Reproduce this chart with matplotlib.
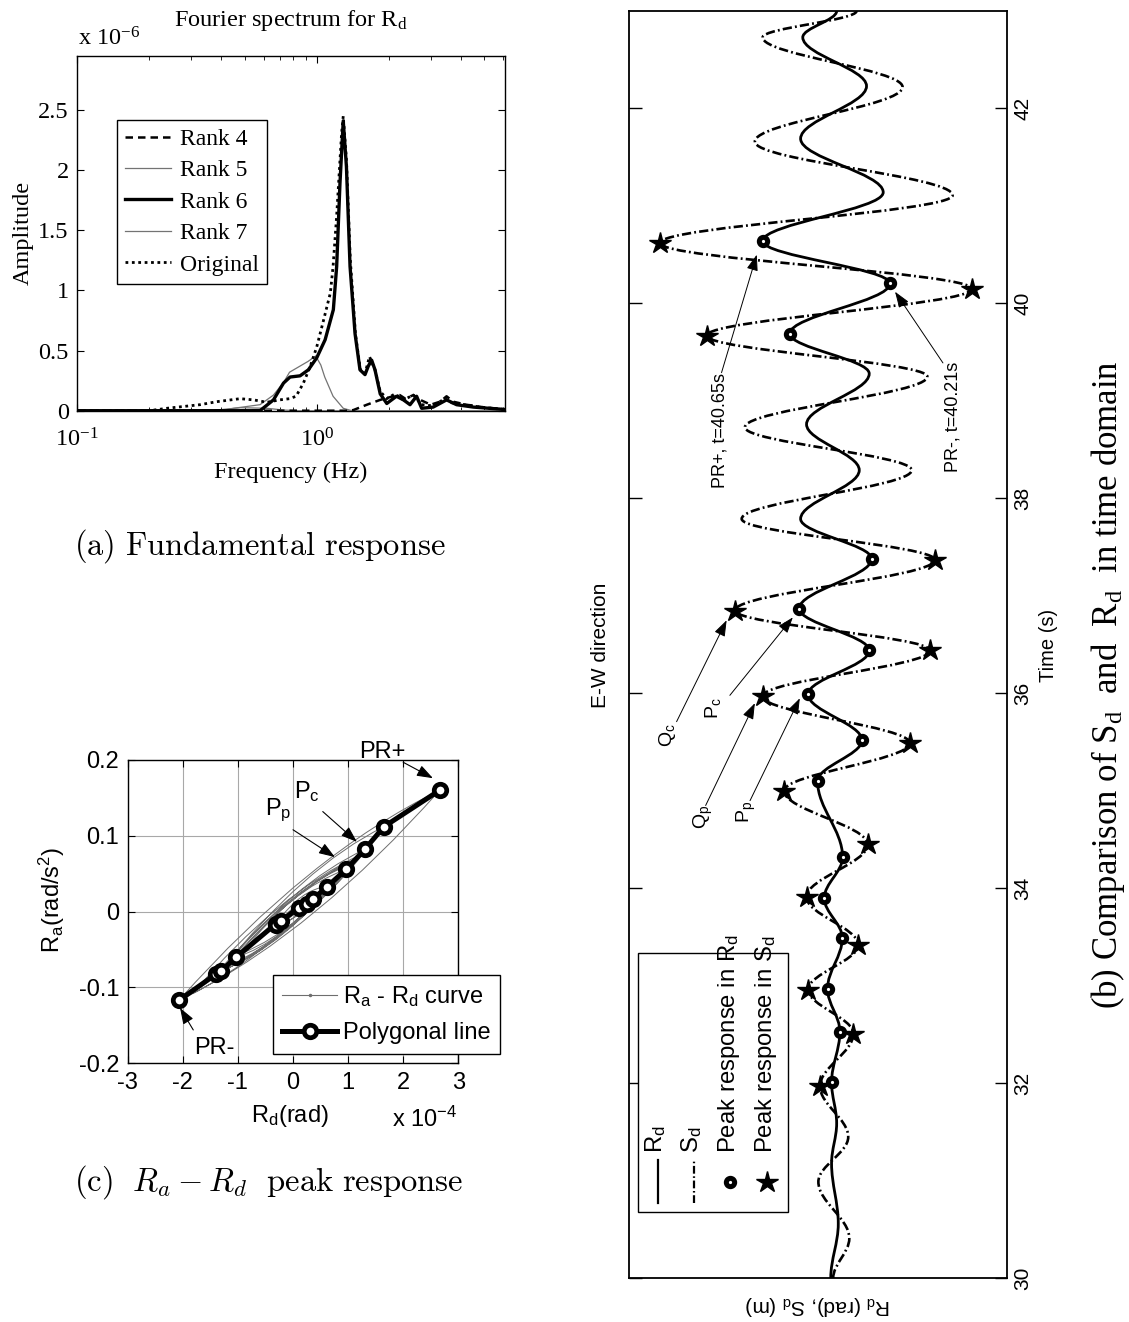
import numpy as np
import matplotlib
matplotlib.use("Agg")
import matplotlib.pyplot as plt
from matplotlib.path import Path
from matplotlib.patches import PathPatch, Rectangle
from matplotlib.lines import Line2D
from matplotlib.ticker import NullFormatter

plt.rcParams["axes.unicode_minus"] = False
plt.rcParams["font.family"] = ["Liberation Sans", "DejaVu Sans"]

W, H = 1129, 1322
SERIF = ["Liberation Serif", "DejaVu Serif"]
SANS = ["Liberation Sans", "DejaVu Sans"]


def fx(px):
    return px / W


def fy(py):
    return 1.0 - py / H


def axes_box(x0, y0, x1, y1):
    return [fx(x0), fy(y1), (x1 - x0) / W, (y1 - y0) / H]


# ---------------- (a) Fourier spectra of R_d (amplitude in 1e-6) ----------------
rank4_f = [0.1, 1.35, 1.42, 1.62, 1.84, 2.08, 2.22, 2.34, 2.53, 2.70, 2.99, 3.27, 3.48, 3.71, 4.2, 4.9, 6.1]
rank4_a = [0, 0, 0.005, 0.05, 0.09, 0.12, 0.13, 0.10, 0.13, 0.09, 0.05, 0.075, 0.12, 0.075, 0.05, 0.03, 0.01]

rank5_f = [0.1, 0.40, 0.45, 0.58, 0.66, 0.73, 0.77, 0.85, 0.92, 0.99, 1.04, 1.08, 1.17, 1.29, 1.4, 6.1]
rank5_a = [0, 0, 0.02, 0.05, 0.13, 0.24, 0.32, 0.37, 0.41, 0.455, 0.38, 0.28, 0.12, 0.02, 0, 0]

rank6_f = [0.1, 0.58, 0.66, 0.727, 0.774, 0.852, 0.923, 1.0, 1.084, 1.173, 1.211, 1.25, 1.29, 1.33,
           1.377, 1.445, 1.515, 1.59, 1.64, 1.695, 1.75, 1.84, 1.96, 2.15, 2.30, 2.45, 2.61, 2.74,
           3.06, 3.48, 3.83, 4.5, 6.1]
rank6_a = [0, 0, 0.09, 0.23, 0.28, 0.29, 0.34, 0.44, 0.59, 0.84, 1.2, 1.89, 2.41, 2.03,
           1.2, 0.64, 0.34, 0.30, 0.37, 0.42, 0.34, 0.14, 0.06, 0.12, 0.09, 0.05, 0.12, 0.02,
           0.03, 0.09, 0.05, 0.03, 0.01]

rank7_f = [0.1, 0.38, 0.48, 0.62, 0.73, 0.85, 6.1]
rank7_a = [0, 0.005, 0.025, 0.02, 0.005, 0, 0]

orig_f = [0.1, 0.20, 0.237, 0.326, 0.383, 0.479, 0.545, 0.62, 0.70, 0.77, 0.82, 0.88, 0.94, 1.0,
          1.07, 1.14, 1.17, 1.21, 1.27, 1.29, 1.33, 1.38, 1.45, 1.52, 1.59, 1.66, 1.75, 1.84,
          1.96, 2.12, 2.30, 2.53, 2.74, 3.06, 3.42, 3.71, 4.2, 4.8, 6.1]
orig_a = [0, 0, 0.02, 0.05, 0.075, 0.10, 0.09, 0.07, 0.09, 0.10, 0.12, 0.23, 0.37, 0.53,
          0.76, 0.98, 1.2, 1.61, 2.31, 2.45, 2.09, 1.26, 0.64, 0.34, 0.31, 0.45, 0.34, 0.16,
          0.10, 0.14, 0.09, 0.13, 0.05, 0.04, 0.10, 0.06, 0.05, 0.03, 0.01]

amp_ticks = [0, 0.5, 1, 1.5, 2, 2.5]
amp_ticklabels = ["0", "0.5", "1", "1.5", "2", "2.5"]

# ---------------- (b) time histories: turning points (R_d in 1e-4 rad) ----------------
rd_t = [30.00, 30.56, 31.18, 31.59, 32.01, 32.53, 32.97, 33.49, 33.90, 34.32, 35.10, 35.52, 35.99,
        36.44, 36.87, 37.38, 37.79, 38.29, 38.76, 39.28, 39.69, 40.205, 40.64, 41.14, 41.69,
        42.23, 42.73, 43.00]
rd_v = [0.13, -0.15, 0.10, -0.09, 0.10, -0.21, 0.25, -0.30, 0.37, -0.31, 0.62, -1.03, 0.97,
        -1.30, 1.30, -1.39, 1.25, -0.93, 1.03, -1.30, 1.65, -2.07, 2.66, -1.82, 1.25,
        -1.20, 1.17, -0.09]
ra_v = [0.006, -0.010, 0.006, -0.006, 0.005, -0.012, 0.010, -0.018, 0.017, -0.016, 0.033, -0.060, 0.056,
        -0.078, 0.082, -0.082, 0.074, -0.055, 0.062, -0.078, 0.112, -0.117, 0.160, -0.108, 0.076,
        -0.072, 0.070, -0.004]
# loop opening of each half cycle in the R_a - R_d plane (rad/s^2)
loop_open = [0.006, 0.006, 0.005, 0.005, 0.008, 0.010, 0.012, 0.014, 0.016, 0.022, 0.028, 0.032, 0.035,
             0.036, 0.038, 0.035, 0.032, 0.032, 0.036, 0.042, 0.052, 0.055, 0.050, 0.040, 0.036,
             0.032, 0.022]

sd_t = [30.00, 30.41, 30.99, 31.45, 31.97, 32.51, 32.96, 33.42, 33.91, 34.45, 35.00, 35.49, 35.97,
        36.44, 36.85, 37.37, 37.79, 38.29, 38.73, 39.25, 39.67, 40.15, 40.62, 41.11, 41.66,
        42.22, 42.73, 43.00]
sd_v = [0.04, -0.56, 0.59, -0.52, 0.53, -0.71, 0.97, -0.89, 1.03, -1.24, 1.86, -2.81, 2.66,
        -3.56, 3.69, -3.74, 3.44, -2.88, 3.32, -3.46, 4.74, -5.11, 6.48, -4.40, 2.95,
        -2.54, 2.66, -0.83]

# peak responses
peak_rd_t = [32.01, 32.53, 32.97, 33.49, 33.90, 34.32, 35.10, 35.52, 35.99, 36.44, 36.87, 37.38,
             39.69, 40.205, 40.64]
peak_rd = [0.10, -0.21, 0.25, -0.30, 0.37, -0.31, 0.62, -1.03, 0.97, -1.30, 1.30, -1.39,
           1.65, -2.07, 2.66]
peak_ra = [0.005, -0.012, 0.010, -0.018, 0.017, -0.016, 0.033, -0.060, 0.056, -0.078, 0.082, -0.082,
           0.112, -0.117, 0.160]
peak_sd_t = [31.97, 32.51, 32.96, 33.42, 33.91, 34.45, 35.00, 35.49, 35.97, 36.44, 36.85, 37.37,
             39.67, 40.15, 40.62]
peak_sd = [0.53, -0.71, 0.97, -0.89, 1.03, -1.24, 1.86, -2.81, 2.66, -3.56, 3.69, -3.74,
           4.74, -5.11, 6.48]

time_ticks = [30, 32, 34, 36, 38, 40, 42]

fig = plt.figure(figsize=(W / 100, H / 100), dpi=100)

# ============================ (a) ============================
ax_a = fig.add_axes(axes_box(77, 56, 505, 410.7))
ax_a.set_xscale("log")
ax_a.plot(rank4_f, rank4_a, color="k", lw=1.8, ls=(0, (3, 2)), label="Rank 4", zorder=4)
ax_a.plot(rank5_f, rank5_a, color="0.45", lw=0.9, label="Rank 5", zorder=3)
ax_a.plot(rank6_f, rank6_a, color="k", lw=2.4, label="Rank 6", zorder=5)
ax_a.plot(rank7_f, rank7_a, color="0.45", lw=0.9, label="Rank 7", zorder=3)
ax_a.plot(orig_f, orig_a, color="k", lw=2.0, ls=(0, (1, 1.3)), label="Original", zorder=4)
ax_a.set_xlim(0.1, 6.1)
ax_a.set_ylim(0, 2.95)
ax_a.set_xticks([0.1, 1])
ax_a.set_xticklabels([r"$\mathregular{10^{-1}}$", r"$\mathregular{10^{0}}$"])
ax_a.xaxis.set_minor_formatter(NullFormatter())
ax_a.set_yticks(amp_ticks)
ax_a.set_yticklabels(amp_ticklabels)
ax_a.tick_params(which="both", direction="in", top=True, right=True, labelsize=17.5)
ax_a.tick_params(which="major", length=5)
ax_a.tick_params(axis="y", pad=6)
ax_a.tick_params(axis="x", pad=13)
ax_a.tick_params(which="minor", length=3)
for lbl in ax_a.get_xticklabels() + ax_a.get_yticklabels():
    lbl.set_family(SERIF)
for s in ax_a.spines.values():
    s.set_linewidth(1.0)
leg_a = ax_a.legend(loc="upper left", bbox_to_anchor=(fx(117), fy(120)),
                    bbox_transform=fig.transFigure, prop={"family": SERIF, "size": 17},
                    fancybox=False, edgecolor="k", framealpha=1, borderaxespad=0,
                    handlelength=1.95, handletextpad=0.35, labelspacing=0.42, borderpad=0.35)
leg_a.get_frame().set_linewidth(1.0)

fig.text(fx(291), fy(26), r"Fourier spectrum for $\mathregular{R_d}$", ha="center", va="baseline",
         fontsize=17.5, family=SERIF)
fig.text(fx(78), fy(46), r"x $\mathregular{10^{-6}}$", ha="left", va="baseline", fontsize=17.5, family=SERIF)
fig.text(fx(23), fy(233), "Amplitude", rotation=90, ha="center", va="center", fontsize=17.5, family=SERIF)
fig.text(fx(291), fy(478), "Frequency (Hz)", ha="center", va="baseline", fontsize=17.5, family=SERIF)
fig.text(fx(260), fy(555), r"$\mathrm{(a)\ Fundamental\ response}$", ha="center", va="baseline",
         fontsize=23.5, math_fontfamily="cm")

# ============================ (c) ============================
ax_c = fig.add_axes(axes_box(127.7, 760, 458.3, 1063.3))
ax_c.set_xlim(-3, 3)
ax_c.set_ylim(-0.2, 0.2)
ax_c.set_xticks([-3, -2, -1, 0, 1, 2, 3])
ax_c.set_yticks([-0.2, -0.1, 0, 0.1, 0.2])
ax_c.set_yticklabels(["-0.2", "-0.1", "0", "0.1", "0.2"])
ax_c.grid(True, color="#a8a8a8", lw=0.8, ls="-")
ax_c.set_axisbelow(True)
ax_c.tick_params(direction="in", top=True, right=True, length=5, labelsize=17, pad=6)
for s in ax_c.spines.values():
    s.set_linewidth(1.0)

# hysteresis trajectory: one quadratic Bezier per half cycle
verts = [(rd_v[0], ra_v[0])]
codes = [Path.MOVETO]
for i in range(len(rd_v) - 1):
    sgn = np.sign(rd_v[i + 1] - rd_v[i])
    ctrl = (0.5 * (rd_v[i] + rd_v[i + 1]), 0.5 * (ra_v[i] + ra_v[i + 1]) + sgn * loop_open[i])
    verts += [ctrl, (rd_v[i + 1], ra_v[i + 1])]
    codes += [Path.CURVE3, Path.CURVE3]
ax_c.add_patch(PathPatch(Path(verts, codes), fill=False, edgecolor="#6e6e6e", lw=0.7, zorder=2))

order = np.argsort(peak_rd)
poly_x = np.array(peak_rd)[order]
poly_y = np.array(peak_ra)[order]
ax_c.plot(poly_x, poly_y, color="k", lw=3.6, marker="o", ms=9, mfc="white", mec="k", mew=3.4, zorder=4)

arrow_kw = dict(arrowstyle="-|>,head_length=0.7,head_width=0.25", color="k", lw=0.8,
                shrinkA=0, shrinkB=0, mutation_scale=14)
ax_c.annotate("", xy=(2.54, 0.176), xytext=(2.0, 0.197), arrowprops=arrow_kw, annotation_clip=False)
ax_c.text(1.62, 0.2105, "PR+", ha="center", va="center", fontsize=17)
ax_c.annotate("", xy=(-2.05, -0.127), xytext=(-1.81, -0.156), arrowprops=arrow_kw)
ax_c.text(-1.43, -0.180, "PR-", ha="center", va="center", fontsize=17)
ax_c.annotate("", xy=(0.76, 0.072), xytext=(0.0, 0.108), arrowprops=arrow_kw)
ax_c.text(-0.27, 0.134, r"$\mathregular{P_p}$", ha="center", va="center", fontsize=17)
ax_c.annotate("", xy=(1.16, 0.092), xytext=(0.54, 0.132), arrowprops=arrow_kw)
ax_c.text(0.25, 0.158, r"$\mathregular{P_c}$", ha="center", va="center", fontsize=17)

h_curve = Line2D([], [], color="#6e6e6e", lw=0.8, marker=".", ms=3)
h_poly = Line2D([], [], color="k", lw=3.6, marker="o", ms=9, mfc="white", mec="k", mew=3.4)
leg_c = ax_c.legend([h_curve, h_poly],
                    [r"$\mathregular{R_a}$ - $\mathregular{R_d}$ curve", "Polygonal line"],
                    loc="upper left", bbox_to_anchor=(fx(273), fy(975)), bbox_transform=fig.transFigure,
                    prop={"family": SANS, "size": 17}, fancybox=False, edgecolor="k", framealpha=1,
                    borderaxespad=0, handlelength=2.3, handletextpad=0.25, labelspacing=0.55,
                    borderpad=0.4)
leg_c.get_frame().set_linewidth(1.0)

fig.text(fx(52), fy(900), r"$\mathregular{R_a}$(rad/s$\mathregular{^2}$)", rotation=90,
         ha="center", va="center", fontsize=17)
fig.text(fx(290), fy(1122), r"$\mathregular{R_d}$(rad)", ha="center", va="baseline", fontsize=17)
fig.text(fx(457), fy(1127), r"x $\mathregular{10^{-4}}$", ha="right", va="baseline", fontsize=17)
fig.text(fx(269), fy(1191), r"$\mathrm{(c)}\ \ R_a - R_d\ \ \mathrm{peak\ response}$", ha="center",
         va="baseline", fontsize=23.5, math_fontfamily="cm")

# ============================ (b) ============================
ax_b = fig.add_axes(axes_box(628.7, 11, 1006.7, 1278.3))
ax_b.set_xlim(7.64, -6.41)
ax_b.set_ylim(30, 43)


def history(ax, ts, vals, **kw):
    """Smooth history through its turning points (time on the vertical axis)."""
    vv = [(vals[0], ts[0])]
    cc = [Path.MOVETO]
    for k in range(len(ts) - 1):
        dt = ts[k + 1] - ts[k]
        vv += [(vals[k], ts[k] + 0.36 * dt), (vals[k + 1], ts[k + 1] - 0.36 * dt), (vals[k + 1], ts[k + 1])]
        cc += [Path.CURVE4] * 3
    ax.add_patch(PathPatch(Path(vv, cc), fill=False, **kw))


history(ax_b, sd_t, sd_v, edgecolor="k", lw=1.9, linestyle=(0, (3.5, 1.2, 0.7, 1.2)), zorder=2)
history(ax_b, rd_t, rd_v, edgecolor="k", lw=2.0, zorder=3)
ax_b.plot(peak_sd, peak_sd_t, ls="none", marker="*", ms=16, color="k", zorder=6)
ax_b.plot(peak_rd, peak_rd_t, ls="none", marker="o", ms=6, mfc="white", mec="k", mew=3.6, zorder=6)

ax_b.set_xticks([])
ax_b.set_yticks(time_ticks)
ax_b.tick_params(axis="y", direction="in", left=True, right=True, labelleft=False, labelright=True,
                 length=9, width=1.0, labelsize=15, labelrotation=90, pad=5)
for lbl in ax_b.get_yticklabels():
    lbl.set_va("center")
for s in ax_b.spines.values():
    s.set_linewidth(1.3)

arrow_b = dict(arrowstyle="-|>,head_length=0.7,head_width=0.25", color="k", lw=0.7,
               shrinkA=0, shrinkB=0, mutation_scale=14)
ax_b.annotate("", xy=(2.88, 40.50), xytext=(4.19, 39.29), arrowprops=arrow_b)
ax_b.text(4.25, 38.70, "PR+, t=40.65s", rotation=90, ha="center", va="center", fontsize=13)
ax_b.annotate("", xy=(-2.26, 40.12), xytext=(-4.04, 39.39), arrowprops=arrow_b)
ax_b.text(-4.41, 38.84, "PR-, t=40.21s", rotation=90, ha="center", va="center", fontsize=13)
ax_b.annotate("", xy=(4.0, 36.75), xytext=(5.86, 35.71), arrowprops=arrow_b)
ax_b.text(6.19, 35.57, r"$\mathregular{Q_c}$", rotation=90, ha="center", va="center", fontsize=14)
ax_b.annotate("", xy=(1.54, 36.78), xytext=(3.88, 35.98), arrowprops=arrow_b)
ax_b.text(4.51, 35.85, r"$\mathregular{P_c}$", rotation=90, ha="center", va="center", fontsize=14)
ax_b.annotate("", xy=(2.95, 35.90), xytext=(4.78, 34.85), arrowprops=arrow_b)
ax_b.text(4.88, 34.73, r"$\mathregular{Q_p}$", rotation=90, ha="center", va="center", fontsize=14)
ax_b.annotate("", xy=(1.28, 35.95), xytext=(3.13, 34.90), arrowprops=arrow_b)
ax_b.text(3.25, 34.78, r"$\mathregular{P_p}$", rotation=90, ha="center", va="center", fontsize=14)

# legend box drawn in figure space with vertical entries
fig.patches.append(Rectangle((fx(637.7), fy(1211.7)), (788.3 - 637.7) / W, (1211.7 - 953.3) / H,
                             transform=fig.transFigure, facecolor="white", edgecolor="k", lw=1.0,
                             zorder=5))
fig.add_artist(Line2D([fx(658), fx(658)], [fy(1203), fy(1160)], color="k", lw=1.6,
                      transform=fig.transFigure, zorder=6))
fig.add_artist(Line2D([fx(694), fx(694)], [fy(1203), fy(1160)], color="k", lw=1.6,
                      ls=(0, (3.5, 1.2, 0.7, 1.2)), transform=fig.transFigure, zorder=6))
fig.add_artist(Line2D([fx(730)], [fy(1182)], ls="none", marker="o", ms=6, mfc="white", mec="k",
                      mew=3.6, transform=fig.transFigure, zorder=6))
fig.add_artist(Line2D([fx(767)], [fy(1182)], ls="none", marker="*", ms=16, color="k",
                      transform=fig.transFigure, zorder=6))
leg_labels = [r"$\mathregular{R_d}$", r"$\mathregular{S_d}$", r"Peak response in $\mathregular{R_d}$",
              r"Peak response in $\mathregular{S_d}$"]
for xp, txt in zip([656, 692, 729, 766], leg_labels):
    fig.text(fx(xp), fy(1153), txt, rotation=90, rotation_mode="anchor", ha="left", va="center",
             fontsize=17.2, zorder=7)

fig.text(fx(600), fy(645), "E-W direction", rotation=90, ha="center", va="center", fontsize=15)
fig.text(fx(1048), fy(645), "Time (s)", rotation=90, ha="center", va="center", fontsize=14.5)
fig.text(fx(818), fy(1305), r"$\mathregular{R_d}$ (rad), $\mathregular{S_d}$ (m)", rotation=180,
         ha="center", va="center", fontsize=15)
fig.text(fx(1108), fy(685), r"(b) Comparison of $\mathregular{S_d}$  and  $\mathregular{R_d}$  in time domain",
         rotation=90, ha="center", va="center", fontsize=25, family=SERIF)

fig.savefig("out.png", dpi=100)
